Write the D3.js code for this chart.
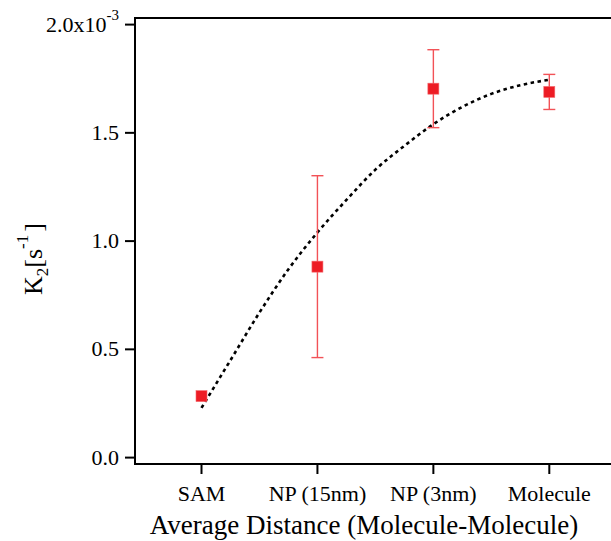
<!DOCTYPE html>
<html>
<head>
<meta charset="utf-8">
<script src="https://cdn.jsdelivr.net/npm/d3@7"></script>
<style>
  body { margin: 0; background: #fff; }
</style>
</head>
<body>
<div id="chart"></div>
<script>
// categories along the x axis
var categories = ["SAM", "NP (15nm)", "NP (3nm)", "Molecule"];
// K2 values, in units of 1e-3 s^-1
var k2 = [0.284, 0.882, 1.704, 1.689];
var k2err = [0.0, 0.42, 0.18, 0.081];
// dashed fit curve (x in category index)
var fitX = [0, 0.25, 0.5, 0.75, 1.0, 1.25, 1.5, 1.75, 2.0, 2.25, 2.5, 2.75, 3.0];
var fitY = [0.23, 0.45, 0.67, 0.87, 1.04, 1.19, 1.33, 1.44, 1.54, 1.62, 1.68, 1.72, 1.745];
var yTicks = [0, 0.5, 1.0, 1.5, 2.0];
var yTickLabels = ["0.0", "0.5", "1.0", "1.5", "2.0"];

var width = 611, height = 541;
var plotLeft = 135, plotRight = 625, plotTop = 18, plotBottom = 464;
var serif = "'Liberation Serif', 'DejaVu Serif', 'Times New Roman', serif";

var svg = d3.select("#chart").append("svg")
  .attr("width", width)
  .attr("height", height)
  .attr("font-family", serif);

var x = d3.scaleLinear().domain([0, 3]).range([201.5, 549.3]);
var y = d3.scaleLinear().domain([0, 2.0]).range([457.6, 24.6]);

//frame
svg.append("path")
  .attr("d", "M" + plotRight + "," + plotTop + "H" + plotLeft + "V" + plotBottom + "H" + plotRight)
  .attr("fill", "none")
  .attr("stroke", "#000")
  .attr("stroke-width", 2);

//y ticks
var yAxis = svg.append("g");
yAxis.selectAll("line")
  .data(yTicks)
  .enter().append("line")
  .attr("x1", plotLeft - 10).attr("x2", plotLeft)
  .attr("y1", function(d) { return y(d); })
  .attr("y2", function(d) { return y(d); })
  .attr("stroke", "#000").attr("stroke-width", 2);

yAxis.selectAll("text")
  .data(yTicks)
  .enter().append("text")
  .attr("x", plotLeft - 16)
  .attr("y", function(d) { return y(d) + 7; })
  .attr("text-anchor", "end")
  .attr("font-size", 22)
  .each(function(d, i) {
    var t = d3.select(this);
    if (i == yTicks.length - 1) {
      t.append("tspan").text(yTickLabels[i] + "x10");
      t.append("tspan").attr("dy", -12).attr("font-size", 15).text("-3");
    } else {
      t.text(yTickLabels[i]);
    }
  });

//x ticks
var xAxis = svg.append("g");
xAxis.selectAll("line")
  .data(categories)
  .enter().append("line")
  .attr("x1", function(d, i) { return x(i); })
  .attr("x2", function(d, i) { return x(i); })
  .attr("y1", plotBottom).attr("y2", plotBottom + 10)
  .attr("stroke", "#000").attr("stroke-width", 2);

xAxis.selectAll("text")
  .data(categories)
  .enter().append("text")
  .attr("x", function(d, i) { return x(i); })
  .attr("y", 501)
  .attr("text-anchor", "middle")
  .attr("font-size", 22)
  .text(function(d) { return d; });

//axis titles
svg.append("text")
  .attr("x", 364)
  .attr("y", 534)
  .attr("text-anchor", "middle")
  .attr("font-size", 27)
  .text("Average Distance (Molecule-Molecule)");

var yt = svg.append("text")
  .attr("transform", "translate(42,259) rotate(-90)")
  .attr("text-anchor", "middle")
  .attr("font-size", 26);
yt.append("tspan").text("K");
yt.append("tspan").attr("dy", 6).attr("font-size", 17).text("2");
yt.append("tspan").attr("dy", -6).text("[s");
yt.append("tspan").attr("dy", -14).attr("font-size", 17).text("-1");
yt.append("tspan").attr("dy", 14).attr("dx", 3).text("]");

//fit curve
var line = d3.line()
  .x(function(d) { return x(d[0]); })
  .y(function(d) { return y(d[1]); })
  .curve(d3.curveMonotoneX);

svg.append("path")
  .datum(d3.zip(fitX, fitY))
  .attr("d", line)
  .attr("fill", "none")
  .attr("stroke", "#000")
  .attr("stroke-width", 2.6)
  .attr("stroke-dasharray", "3.5,3.5");

//error bars
var eb = svg.append("g")
  .attr("stroke", "#f25257")
  .attr("stroke-width", 1.4);

k2.forEach(function(v, i) {
  var e = k2err[i];
  if (e <= 0) return;
  var cx = x(i);
  eb.append("line").attr("x1", cx).attr("x2", cx).attr("y1", y(v + e)).attr("y2", y(v - e));
  eb.append("line").attr("x1", cx - 6).attr("x2", cx + 6).attr("y1", y(v + e)).attr("y2", y(v + e));
  eb.append("line").attr("x1", cx - 6).attr("x2", cx + 6).attr("y1", y(v - e)).attr("y2", y(v - e));
});

//markers
svg.selectAll("rect.pt")
  .data(k2)
  .enter().append("rect")
  .attr("class", "pt")
  .attr("x", function(d, i) { return x(i) - 5.5; })
  .attr("y", function(d) { return y(d) - 5.5; })
  .attr("width", 11)
  .attr("height", 11)
  .attr("fill", "#ed1c24")
  .attr("stroke", "#f36a6e")
  .attr("stroke-width", 0.6);
</script>
</body>
</html>
